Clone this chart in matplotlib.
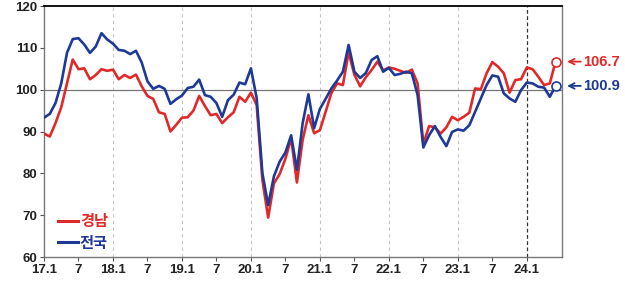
import numpy as np
import matplotlib
matplotlib.use('Agg')
import matplotlib.pyplot as plt

plt.rcParams['font.family'] = ['Liberation Sans', 'Noto Sans CJK KR', 'DejaVu Sans']

# monthly index, 2017.1 ~ 2024.6
gyeongnam = [89.5, 88.8, 92.0, 95.8, 101.5, 107.2, 104.9, 105.1, 102.5, 103.5, 104.9, 104.5,
             104.8, 102.5, 103.5, 102.8, 103.6, 100.8, 98.5, 97.8, 94.6, 94.2, 90.0, 91.6,
             93.3, 93.4, 95.0, 98.5, 96.1, 93.9, 94.2, 92.0, 93.4, 94.6, 98.3, 97.1,
             99.3, 96.3, 78.4, 69.4, 77.6, 79.8, 83.5, 88.4, 77.8, 88.0, 93.9, 89.6,
             90.3, 94.7, 99.2, 101.5, 101.1, 108.9, 103.6, 100.8, 103.0, 104.7, 106.7, 104.6,
             105.3, 105.0, 104.5, 104.0, 104.8, 101.5, 87.0, 91.3, 91.0, 89.5, 91.0, 93.5,
             92.7, 93.5, 94.5, 100.3, 100.1, 103.9, 106.6, 105.5, 103.9, 99.3, 102.3, 102.5,
             105.3, 104.9, 103.1, 101.1, 101.5, 106.7]
national = [93.3, 94.2, 96.8, 101.5, 108.8, 112.1, 112.3, 110.8, 108.8, 110.3, 113.5, 112.0,
            111.0, 109.5, 109.3, 108.5, 109.3, 106.5, 102.0, 100.2, 100.9, 100.2, 96.6, 97.7,
            98.6, 100.4, 100.7, 102.4, 98.7, 98.3, 96.8, 93.5, 97.5, 98.8, 101.7, 101.3,
            105.1, 98.0, 80.0, 72.4, 79.3, 82.8, 85.0, 89.1, 80.8, 92.0, 98.9, 90.8,
            95.4, 97.8, 100.3, 102.2, 104.3, 110.7, 104.3, 102.8, 104.0, 107.1, 108.0, 104.3,
            105.2, 103.5, 103.8, 104.3, 103.9, 98.7, 86.2, 89.1, 91.3, 88.7, 86.5, 89.9,
            90.5, 90.2, 91.5, 94.7, 97.9, 101.1, 103.4, 103.1, 99.1, 97.9, 97.1, 99.9,
            101.7, 101.5, 100.7, 100.5, 98.3, 100.9]
tick_labels = ['17.1', '7', '18.1', '7', '19.1', '7', '20.1', '7', '21.1', '7',
               '22.1', '7', '23.1', '7', '24.1']

red = '#E02A2A'
blue = '#1F3A96'
x = np.arange(len(national))

fig = plt.figure(figsize=(6.25, 2.81), dpi=100)
ax = fig.add_axes([0.0704, 0.0854, 0.8286, 0.8932])

ax.axhline(100, color='#777777', lw=0.9, zorder=1)
for t in range(12, 84, 12):
    ax.axvline(t, color='#c4c4c4', lw=0.8, ls=(0, (3, 3)), zorder=0)
ax.axvline(84, color='#333333', lw=0.9, ls=(0, (3, 2)), zorder=1)

ax.plot(x, gyeongnam, color=red, lw=1.9, label='경남', zorder=3)
ax.plot(x, national, color=blue, lw=1.9, label='전국', zorder=4)
ax.plot(x[-1], gyeongnam[-1], 'o', ms=6.5, mfc='white', mec=red, mew=1.2, zorder=5)
ax.plot(x[-1], national[-1], 'o', ms=6.5, mfc='white', mec=blue, mew=1.2, zorder=5)

# end-value arrows and labels outside the right spine
for val, c in [(gyeongnam[-1], red), (national[-1], blue)]:
    ax.annotate('', xy=(91.0, val), xytext=(93.4, val),
                arrowprops=dict(arrowstyle='->', color=c, lw=1.3, shrinkA=0, shrinkB=0),
                annotation_clip=False)
    ax.text(93.8, val, f'{val:.1f}', va='center', ha='left', color=c,
            fontsize=10.5, fontweight='bold', clip_on=False)

ax.set_xlim(0, 90.1)
ax.set_ylim(60, 120)
ax.set_yticks(range(60, 121, 10))
ax.set_xticks(range(0, 85, 6))
ax.set_xticklabels(tick_labels)
ax.tick_params(axis='both', direction='out', length=3, width=0.8, color='#555555',
               labelsize=9.5, pad=2)
for lab in ax.get_xticklabels() + ax.get_yticklabels():
    lab.set_fontweight('bold')
    lab.set_color('#222222')

for s in ['left', 'bottom', 'right']:
    ax.spines[s].set_color('#777777')
    ax.spines[s].set_linewidth(1.0)
ax.spines['top'].set_color('black')
ax.spines['top'].set_linewidth(1.3)

leg = ax.legend(loc='lower left', bbox_to_anchor=(0.0, -0.03), frameon=False,
                handlelength=1.3, handletextpad=0.15, labelspacing=0.35,
                prop={'family': ['Noto Sans CJK KR'], 'weight': 'bold', 'size': 11})
for txt, c in zip(leg.get_texts(), [red, blue]):
    txt.set_color(c)
for line in leg.get_lines():
    line.set_linewidth(2.2)

fig.savefig('out.png', dpi=100)
